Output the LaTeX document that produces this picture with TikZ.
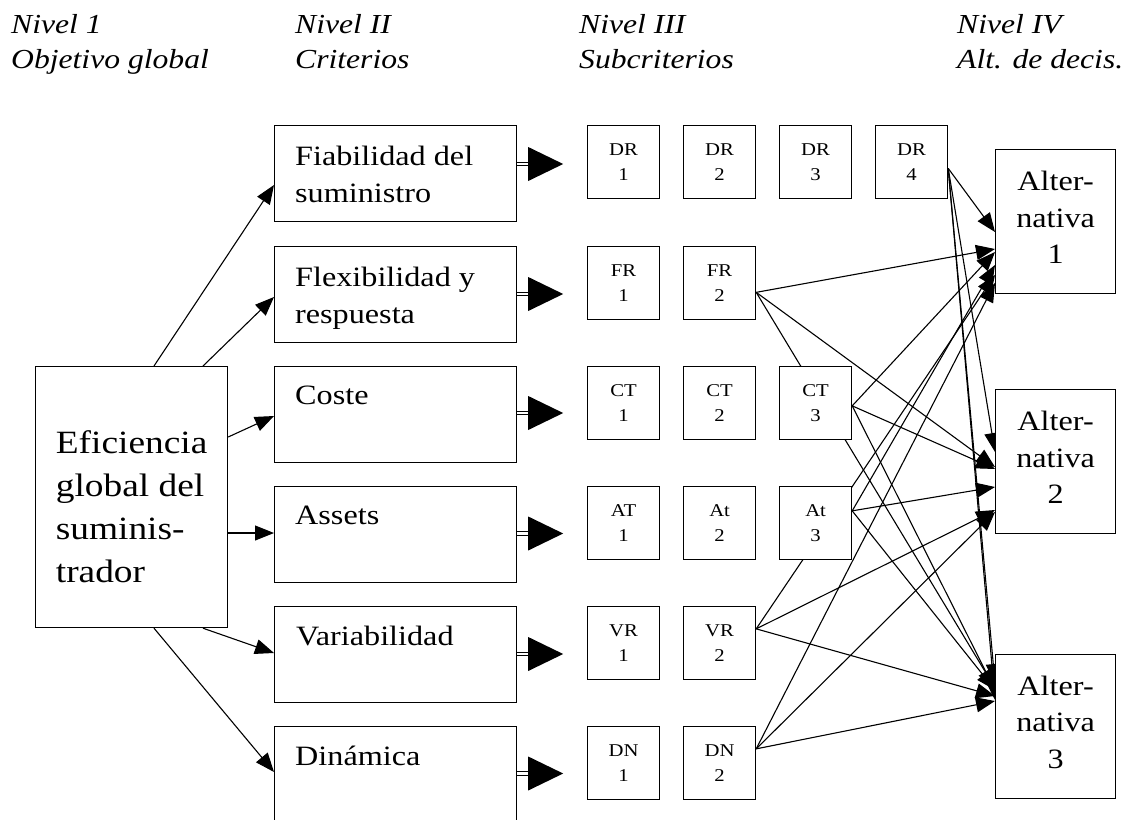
\documentclass[tikz,border=0pt]{standalone}
\usepackage{fontspec}
\setmainfont[FakeStretch=1.15]{Liberation Serif}
\usetikzlibrary{arrows.meta,calc,backgrounds}
\pgfdeclarelayer{bgzero}
\pgfsetlayers{bgzero,background,main}
\begin{document}
\begin{tikzpicture}[x=1pt,y=-1pt,
  box/.style={draw, line width=1.2pt, fill=white, inner sep=0pt},
  crit/.style={box, minimum width=242pt, minimum height=96pt, anchor=north west},
  crittext/.style={anchor=north west, inner sep=0pt, align=left, font=\fontsize{28}{37}\selectfont},
  sub/.style={box, minimum width=72pt, minimum height=72.5pt, anchor=north west, align=center, font=\fontsize{18}{25}\selectfont},
  alt/.style={box, minimum width=120pt, minimum height=144pt, anchor=north west, align=center, font=\fontsize{28}{36.5}\selectfont},
  conn/.style={line width=1.1pt, -{Triangle[length=19pt,width=15pt]}},
  dblline/.style={double, line width=1.2pt, double distance=2.2pt},
  hdr/.style={anchor=north west, inner sep=0pt, align=left, font=\itshape\fontsize{27.5}{35}\selectfont}
]
\useasboundingbox (0,0) rectangle (1124,819);
\begin{pgfonlayer}{bgzero}
\fill[white] (0,0) rectangle (1124,819);
\end{pgfonlayer}
\clip (0,0) rectangle (1124,819);

% headers
\node[hdr] (h1) at (11,14.5) {Nivel 1\\Objetivo global};
\node[hdr] (h2) at (295,14.5) {Nivel II\\Criterios};
\node[hdr] (h3) at (579,14.5) {Nivel III\\Subcriterios};
\node[hdr] (h4) at (957,14.5) {Nivel IV\\Alt. de decis.};

% main box
\node[box, minimum width=192pt, minimum height=261pt, anchor=north west, align=left,
      font=\fontsize{32.5}{43}\selectfont] (main) at (35,366)
  {\rule{0pt}{42.2pt}Eficiencia\\global del\\suminis-\\trador};

% criteria
\node[crit] (c1) at (274,125) {};
\node[crit] (c2) at (274,246) {};
\node[crit] (c3) at (274,366) {};
\node[crit] (c4) at (274,486) {};
\node[crit] (c5) at (274,606) {};
\node[crit] (c6) at (274,726) {};
\node[crittext] (t1) at ($(c1.north west)+(21,20.5)$) {Fiabilidad del\\suministro};
\node[crittext] (t2) at ($(c2.north west)+(21,20.5)$) {Flexibilidad y\\respuesta};
\node[crittext] (t3) at ($(c3.north west)+(21,20)$) {Coste};
\node[crittext] (t4) at ($(c4.north west)+(21,20)$) {Assets};
\node[crittext] (t5) at ($(c5.north west)+(22,20)$) {Variabilidad};
\node[crittext] (t6) at ($(c6.north west)+(21,20)$) {Dinámica};

% subcriteria
\node[sub] (dr1) at (587,125) {DR\\1};
\node[sub] (dr2) at (683,125) {DR\\2};
\node[sub] (dr3) at (779,125) {DR\\3};
\node[sub] (dr4) at (875,125) {DR\\4};
\node[sub] (fr1) at (587,246) {FR\\1};
\node[sub] (fr2) at (683,246) {FR\\2};
\node[sub] (ct1) at (587,366) {CT\\1};
\node[sub] (ct2) at (683,366) {CT\\2};
\node[sub] (ct3) at (779,366) {CT\\3};
\node[sub] (at1) at (587,486) {AT\\1};
\node[sub] (at2) at (683,486) {At\\2};
\node[sub] (at3) at (779,486) {At\\3};
\node[sub] (vr1) at (587,606) {VR\\1};
\node[sub] (vr2) at (683,606) {VR\\2};
\node[sub] (dn1) at (587,726) {DN\\1};
\node[sub] (dn2) at (683,726) {DN\\2};

% alternatives
\node[alt] (alt1) at (995,149) {Alter-\\nativa\\1\rule[-8pt]{0pt}{8pt}};
\node[alt] (alt2) at (995,389) {Alter-\\nativa\\2\rule[-8pt]{0pt}{8pt}};
\node[alt] (alt3) at (995,654) {Alter-\\nativa\\3\rule[-9pt]{0pt}{9pt}};

% main -> criteria
\draw[conn] ($(main.north west)+(119,0)$) -- ($(c1.north west)+(0,60)$);
\draw[conn] ($(main.north west)+(168,0)$) -- ($(c2.north west)+(0,51)$);
\draw[conn] ($(main.north east)+(0,71)$) -- ($(c3.north west)+(0,50)$);
\draw[conn] ($(main.north east)+(0,167)$) -- ($(c4.north west)+(0,47)$);
\draw[conn] ($(main.south west)+(168,0)$) -- ($(c5.north west)+(0,47)$);
\draw[conn] ($(main.south west)+(119,0)$) -- ($(c6.north west)+(0,46)$);

% criteria -> subcriteria (double arrows)
\foreach \c/\dy in {c1/39,c2/48,c3/47,c4/47.5,c5/48,c6/47.5} {
  \coordinate (tip\c) at ($(\c.north east)+(46,\dy)$);
  \draw[dblline] ($(\c.north east)+(0,\dy)$) -- ($(tip\c)+(-34,0)$);
  \fill (tip\c) -- ++(-35,-17) -- ++(0,34) -- cycle;
}

% subcriteria -> alternatives
\begin{scope}[on background layer]
\draw[conn] ($(dr4.east)+(0,6.5)$) -- ($(alt1.north west)+(0,83)$);
\draw[conn] ($(dr4.east)+(0,6.5)$) -- ($(alt2.north west)+(0,63)$);
\draw[conn] ($(dr4.east)+(0,6.5)$) -- ($(alt3.north west)+(0,29)$);
\draw[conn] ($(dr4.east)+(0,6.5)$) -- ($(alt3.north west)+(0,46)$);

\draw[conn] ($(fr2.east)+(0,9.5)$) -- ($(alt1.north west)+(0,100)$);
\draw[conn] ($(fr2.east)+(0,9.5)$) -- ($(alt2.north west)+(0,78)$);
\draw[conn] ($(fr2.east)+(0,9.5)$) -- ($(alt3.north west)+(0,34)$);

\draw[conn] ($(ct3.east)+(0,3)$) -- ($(alt1.north west)+(0,103)$);
\draw[conn] ($(ct3.east)+(0,3)$) -- ($(alt2.north west)+(0,80)$);
\draw[conn] ($(ct3.east)+(0,3)$) -- ($(alt3.north west)+(0,36)$);

\draw[conn] ($(at3.east)+(0,-12)$) -- ($(alt1.north west)+(0,116)$);
\draw[conn] ($(at3.east)+(0,-12)$) -- ($(alt2.north west)+(0,98)$);
\draw[conn] ($(at3.east)+(0,-12)$) -- ($(alt3.north west)+(0,36)$);

\draw[conn] ($(vr2.east)+(0,-14)$) -- ($(alt1.north west)+(0,126)$);
\draw[conn] ($(vr2.east)+(0,-14)$) -- ($(alt2.north west)+(0,121)$);
\draw[conn] ($(vr2.east)+(0,-14)$) -- ($(alt3.north west)+(0,42)$);

\draw[conn] ($(dn2.east)+(0,-14)$) -- ($(alt1.north west)+(0,134)$);
\draw[conn] ($(dn2.east)+(0,-14)$) -- ($(alt2.north west)+(0,123)$);
\draw[conn] ($(dn2.east)+(0,-14)$) -- ($(alt3.north west)+(0,47)$);
\end{scope}
\end{tikzpicture}
\end{document}
